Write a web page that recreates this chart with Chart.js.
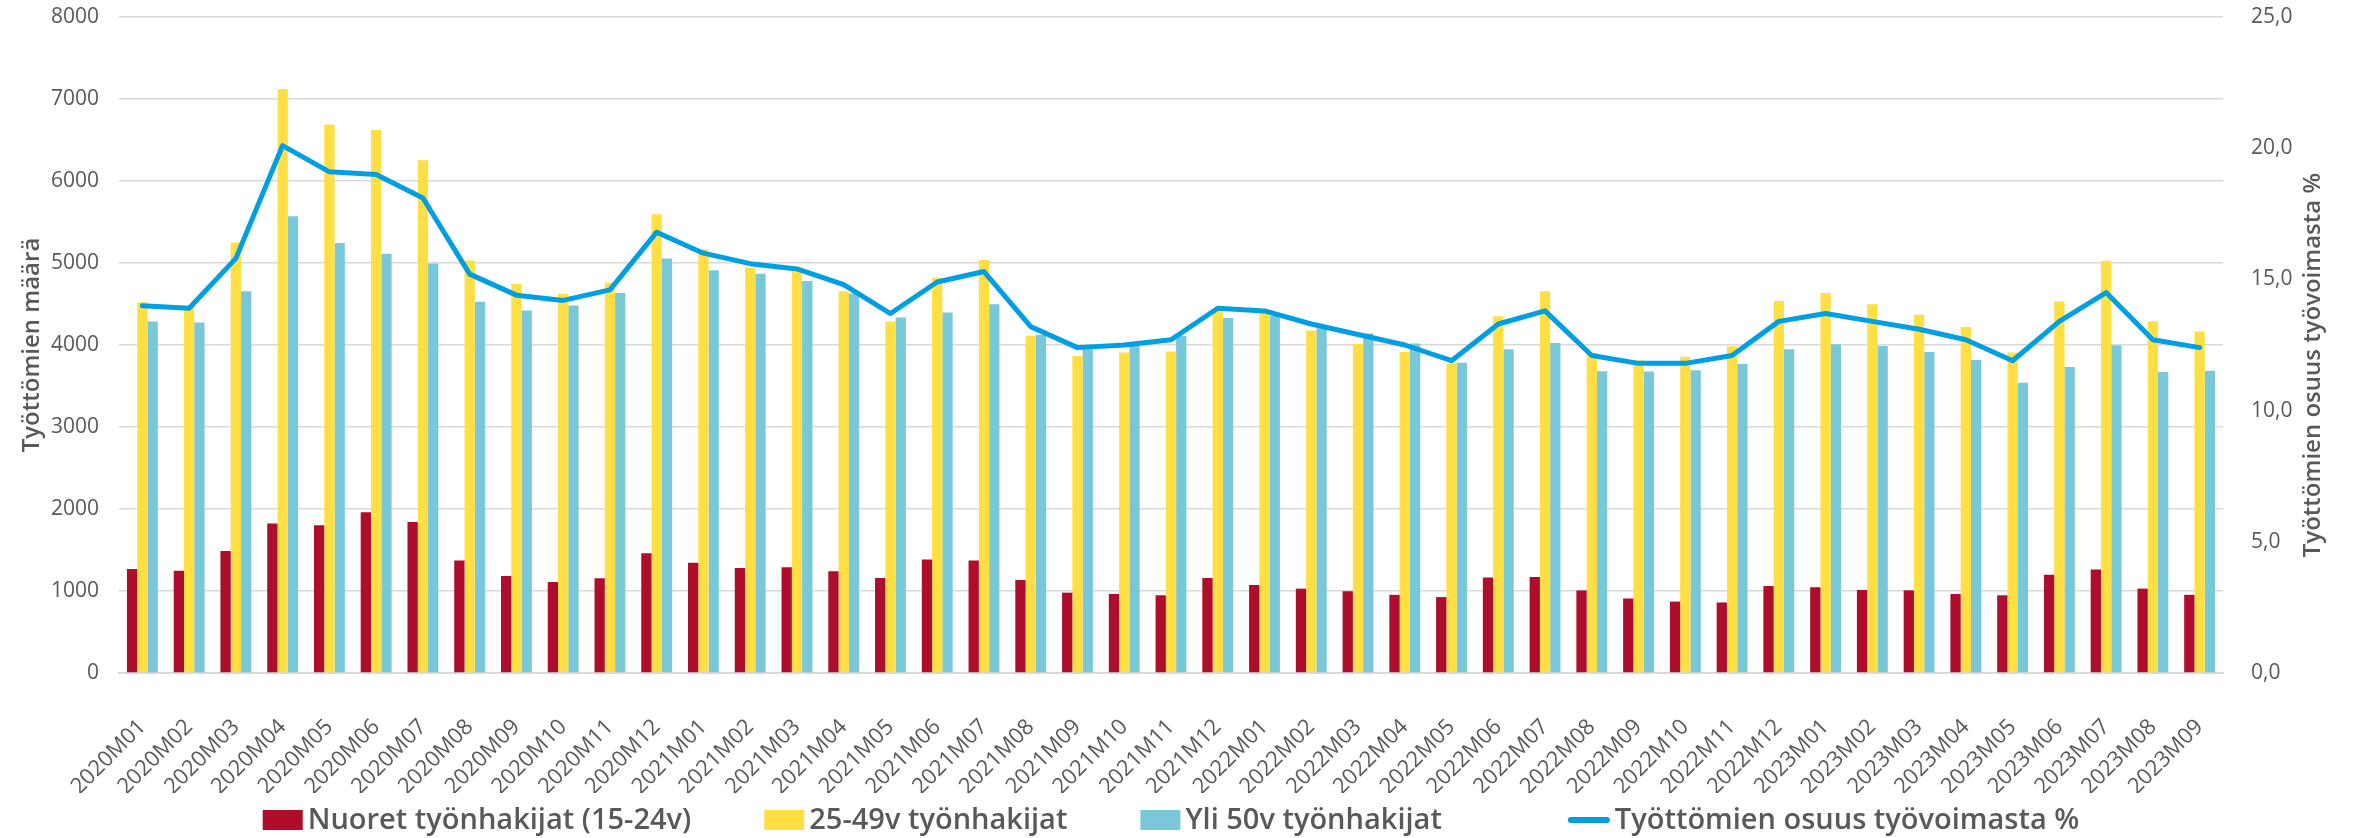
<!DOCTYPE html>
<html>
<head>
<meta charset="utf-8">
<script src="https://cdn.jsdelivr.net/npm/chart.js@4.4.0/dist/chart.umd.min.js"></script>
<style>
html,body{margin:0;padding:0;background:#ffffff;overflow:hidden;}
#wrap{width:2353px;height:838px;position:relative;}
canvas{display:block;}
</style>
</head>
<body>
<div id="wrap"><canvas id="c" width="2353" height="838"></canvas></div>
<script>
const categories = [
  "2020M01","2020M02","2020M03","2020M04","2020M05","2020M06","2020M07","2020M08","2020M09","2020M10","2020M11","2020M12",
  "2021M01","2021M02","2021M03","2021M04","2021M05","2021M06","2021M07","2021M08","2021M09","2021M10","2021M11","2021M12",
  "2022M01","2022M02","2022M03","2022M04","2022M05","2022M06","2022M07","2022M08","2022M09","2022M10","2022M11","2022M12",
  "2023M01","2023M02","2023M03","2023M04","2023M05","2023M06","2023M07","2023M08","2023M09"
];

const nuoret = [
  1269,1247,1487,1824,1803,1961,1841,1372,1182,1111,1155,1460,
  1345,1280,1291,1242,1160,1383,1372,1133,980,964,948,1160,
  1073,1029,997,953,926,1165,1171,1007,909,871,860,1062,
  1046,1013,1008,964,948,1198,1263,1029,953
];

const keskiIka = [
  4520,4477,5250,7123,6688,6622,6252,5032,4743,4624,4760,5593,
  5168,4945,4896,4656,4286,4820,5037,4112,3867,3910,3921,4411,
  4400,4177,4014,3916,3774,4351,4656,3905,3812,3856,3986,4536,
  4634,4498,4368,4221,3910,4531,5027,4291,4166
];

const yli50 = [
  4286,4275,4656,5571,5245,5114,4994,4526,4422,4482,4634,5054,
  4912,4869,4782,4629,4335,4395,4498,4123,3948,3992,4112,4330,
  4357,4204,4139,4019,3785,3948,4025,3681,3676,3692,3769,3948,
  4008,3987,3916,3818,3540,3731,3997,3671,3687
];

const osuus = [
  14.0,13.9,15.8,20.1,19.1,19.0,18.1,15.2,14.4,14.2,14.6,16.8,
  16.0,15.6,15.4,14.8,13.7,14.9,15.3,13.2,12.4,12.5,12.7,13.9,
  13.8,13.3,12.9,12.5,11.9,13.3,13.8,12.1,11.8,11.8,12.1,13.4,
  13.7,13.4,13.1,12.7,11.9,13.4,14.5,12.7,12.4
];

const seriesNames = [
  "Nuoret työnhakijat (15-24v)",
  "25-49v työnhakijat",
  "Yli 50v työnhakijat",
  "Työttömien osuus työvoimasta %"
];

const leftTitle = "Työttömien määrä";
const rightTitle = "Työttömien osuus työvoimasta %";

const COL_RED = "#ae0d2c";
const COL_YEL = "#ffdf43";
const COL_BLU = "#78c8da";
const COL_LINE = "#009fe3";
const TXT = "#595959";
const GRID = "#d9d9d9";
const FONT = "'Open Sans', 'Noto Sans', sans-serif";

const customLegend = {
  id: "customLegend",
  afterDraw(chart) {
    const ctx = chart.ctx;
    const ds = chart.data.datasets;
    ctx.save();
    ctx.font = "600 29px " + FONT;
    ctx.textBaseline = "middle";
    ctx.textAlign = "left";
    const boxW = 40, boxH = 20, tGap = 5, gap = 73, lineLead = 53, lineW = 42;
    const keyW = ds.map(d => d.type === "line" ? lineLead + lineW : boxW);
    const widths = ds.map((d, i) => keyW[i] + tGap + ctx.measureText(d.label).width);
    const total = widths.reduce((a, b) => a + b, 0) + gap * (ds.length - 1);
    const ca = chart.chartArea;
    let x = (ca.left + ca.right) / 2 - total / 2;
    const y = 820;
    ds.forEach((d, i) => {
      if (d.type === "line") {
        const bx = x + lineLead;
        ctx.strokeStyle = d.borderColor;
        ctx.lineWidth = 6;
        ctx.lineCap = "round";
        ctx.beginPath();
        ctx.moveTo(bx + 3, y);
        ctx.lineTo(bx + lineW - 3, y);
        ctx.stroke();
      } else {
        ctx.fillStyle = d.backgroundColor;
        ctx.fillRect(x, y - boxH / 2, boxW, boxH);
      }
      ctx.fillStyle = TXT;
      ctx.fillText(d.label, x + keyW[i] + tGap, y + 1);
      x += widths[i] + gap;
    });
    ctx.restore();
  }
};

const rightAxisTitle = {
  id: "rightAxisTitle",
  afterDraw(chart) {
    const ctx = chart.ctx;
    const ca = chart.chartArea;
    ctx.save();
    ctx.font = "600 24px " + FONT;
    ctx.fillStyle = TXT;
    ctx.textAlign = "center";
    ctx.textBaseline = "middle";
    ctx.translate(2313, (ca.top + ca.bottom) / 2 + 20);
    ctx.rotate(-Math.PI / 2);
    ctx.fillText(rightTitle, 0, 0);
    ctx.restore();
  }
};

new Chart(document.getElementById("c"), {
  data: {
    labels: categories,
    datasets: [
      { type: "bar", label: seriesNames[0], data: nuoret, backgroundColor: COL_RED, yAxisID: "y", order: 1,
        categoryPercentage: 0.66, barPercentage: 1.0 },
      { type: "bar", label: seriesNames[1], data: keskiIka, backgroundColor: COL_YEL, yAxisID: "y", order: 1,
        categoryPercentage: 0.66, barPercentage: 1.0 },
      { type: "bar", label: seriesNames[2], data: yli50, backgroundColor: COL_BLU, yAxisID: "y", order: 1,
        categoryPercentage: 0.66, barPercentage: 1.0 },
      { type: "line", label: seriesNames[3], data: osuus, borderColor: COL_LINE, backgroundColor: COL_LINE,
        borderWidth: 5, pointRadius: 0, tension: 0, yAxisID: "y2", order: 0,
        borderJoinStyle: "round", borderCapStyle: "round" }
    ]
  },
  options: {
    responsive: false,
    animation: false,
    devicePixelRatio: 1,
    layout: { padding: { top: 17, bottom: 45, left: 0, right: 0 } },
    plugins: {
      legend: { display: false },
      tooltip: { enabled: false },
      title: { display: false }
    },
    scales: {
      x: {
        offset: true,
        grid: { display: false },
        border: { display: true, color: GRID, width: 2 },
        ticks: {
          autoSkip: false, maxRotation: 45, minRotation: 45, padding: 33,
          color: TXT, font: { family: FONT, size: 22 }
        },
        afterFit(scale) { scale.height = 120; scale.paddingLeft = 0; scale.paddingRight = 0; }
      },
      y: {
        position: "left",
        min: 0, max: 8000,
        ticks: {
          stepSize: 1000, padding: 20, color: TXT, font: { family: FONT, size: 21 },
          callback: (v) => String(v)
        },
        grid: { color: GRID, lineWidth: 1.5, drawTicks: false },
        border: { display: false },
        title: {
          display: true, text: leftTitle, color: TXT,
          font: { family: FONT, size: 24, weight: "600" },
          padding: { top: 18, bottom: 0 }
        },
        afterFit(scale) { scale.width = 119; scale.paddingTop = 0; scale.paddingBottom = 0; }
      },
      y2: {
        position: "right",
        min: 0, max: 25,
        ticks: {
          stepSize: 5, padding: 28, color: TXT, font: { family: FONT, size: 21 },
          callback: (v) => Number(v).toFixed(1).replace(".", ",")
        },
        grid: { display: false, drawTicks: false },
        border: { display: false },
        afterFit(scale) { scale.width = 130; scale.paddingTop = 0; scale.paddingBottom = 0; }
      }
    }
  },
  plugins: [customLegend, rightAxisTitle]
});
</script>
</body>
</html>
